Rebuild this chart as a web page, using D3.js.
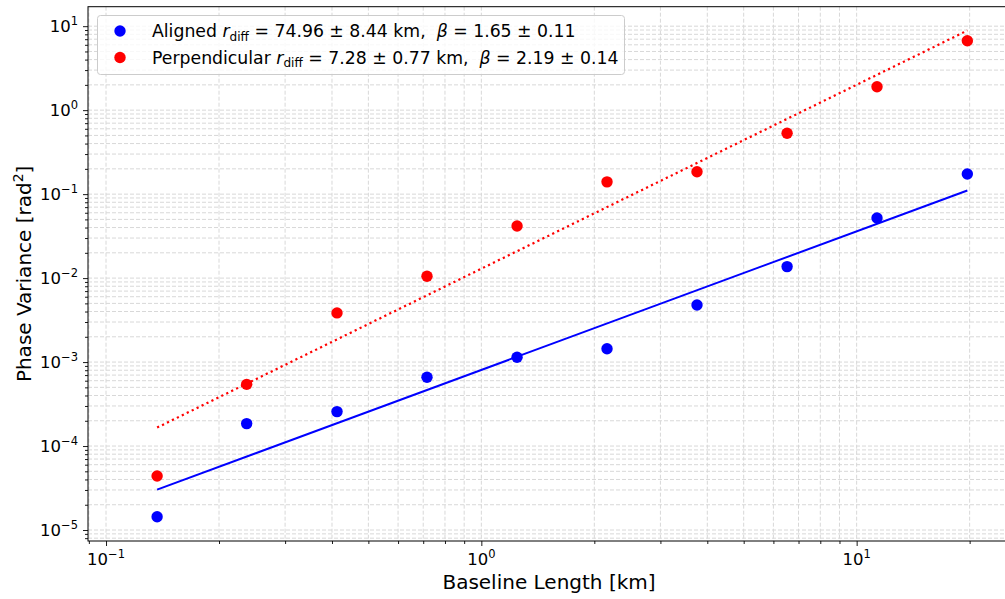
<!DOCTYPE html>
<html>
<head>
<meta charset="utf-8">
<script src="https://cdn.jsdelivr.net/npm/d3@7"></script>
<style>
  body { margin: 0; background: #fff; }
  svg { display: block; font-family: "DejaVu Sans", sans-serif; }
</style>
</head>
<body>
<svg></svg>
<script>
// values
let baselines = [0.1368, 0.2370, 0.4125, 0.7165, 1.245, 2.162, 3.755, 6.526, 11.33, 19.72]
let alignedVar = [1.44e-5, 1.85e-4, 2.57e-4, 6.59e-4, 1.14e-3, 1.44e-3, 4.78e-3, 1.37e-2, 5.20e-2, 0.174]
let perpVar = [4.40e-5, 5.43e-4, 3.85e-3, 1.05e-2, 4.18e-2, 0.140, 0.185, 0.531, 1.90, 6.72]

// fit line end points
let fitBaselines = [0.1368, 19.72]
let alignedFit = [3.03e-5, 0.1105]
let perpFit = [1.66e-4, 8.87]

let xTickExp = [-1, 0, 1]
let yTickExp = [-5, -4, -3, -2, -1, 0, 1]

let width = 1005
let height = 599
let plotLeft = 88, plotRight = 1010, plotTop = 6.7, plotBottom = 541

let svg = d3.select('svg').attr('width', width).attr('height', height)

let xScale = d3.scaleLog().domain([0.08953, 25.62]).range([plotLeft, plotRight])
let yScale = d3.scaleLog().domain([17.06, 7.4e-6]).range([plotTop, plotBottom])

let minorVals = (lo, hi) => {
    let out = []
    for (let e = lo; e <= hi; e++) {
        for (let m = 2; m <= 9; m++) out.push(m * Math.pow(10, e))
    }
    return out
}
let xMinor = minorVals(-2, 1).filter(v => v > 0.08953 && v < 25.62)
let yMinor = minorVals(-6, 1).filter(v => v > 7.4e-6 && v < 17.06)
let xMajor = xTickExp.map(e => Math.pow(10, e))
let yMajor = yTickExp.map(e => Math.pow(10, e))

// grid
let grid = svg.append('g')
grid.selectAll('.vgrid')
    .data(xMajor.concat(xMinor))
    .enter()
    .append('line')
    .attr('x1', d => xScale(d)).attr('x2', d => xScale(d))
    .attr('y1', plotTop).attr('y2', plotBottom)
    .attr('stroke', '#d8d8d8').attr('stroke-width', 1)
    .attr('stroke-dasharray', '4,2')
grid.selectAll('.hgrid')
    .data(yMajor.concat(yMinor))
    .enter()
    .append('line')
    .attr('x1', plotLeft).attr('x2', plotRight)
    .attr('y1', d => yScale(d)).attr('y2', d => yScale(d))
    .attr('stroke', '#d8d8d8').attr('stroke-width', 1)
    .attr('stroke-dasharray', '4,2')

// fit lines
let line = d3.line().x(d => xScale(d[0])).y(d => yScale(d[1]))
svg.append('path')
    .attr('d', line(d3.zip(fitBaselines, alignedFit)))
    .attr('fill', 'none').attr('stroke', 'blue').attr('stroke-width', 2)
svg.append('path')
    .attr('d', line(d3.zip(fitBaselines, perpFit)))
    .attr('fill', 'none').attr('stroke', 'red').attr('stroke-width', 2.2)
    .attr('stroke-dasharray', '2.2,3.3')

// points
svg.selectAll('.aligned')
    .data(d3.zip(baselines, alignedVar))
    .enter()
    .append('circle')
    .attr('cx', d => xScale(d[0])).attr('cy', d => yScale(d[1]))
    .attr('r', 5.7).attr('fill', 'blue')
svg.selectAll('.perp')
    .data(d3.zip(baselines, perpVar))
    .enter()
    .append('circle')
    .attr('cx', d => xScale(d[0])).attr('cy', d => yScale(d[1]))
    .attr('r', 5.7).attr('fill', 'red')

// spines
svg.append('rect')
    .attr('x', plotLeft).attr('y', plotTop)
    .attr('width', plotRight - plotLeft).attr('height', plotBottom - plotTop)
    .attr('fill', 'none').attr('stroke', '#000').attr('stroke-width', 1)

// axes
let xAxis = d3.axisBottom(xScale).tickValues(xMajor).tickSize(5).tickFormat('')
let xg = svg.append('g').attr('transform', 'translate(0,' + plotBottom + ')').call(xAxis)
let xMinorAxis = d3.axisBottom(xScale).tickValues(xMinor).tickSize(3).tickFormat('')
let xmg = svg.append('g').attr('transform', 'translate(0,' + plotBottom + ')').call(xMinorAxis)

let yAxis = d3.axisLeft(yScale).tickValues(yMajor).tickSize(5).tickFormat('')
let yg = svg.append('g').attr('transform', 'translate(' + plotLeft + ',0)').call(yAxis)
let yMinorAxis = d3.axisLeft(yScale).tickValues(yMinor).tickSize(3).tickFormat('')
let ymg = svg.append('g').attr('transform', 'translate(' + plotLeft + ',0)').call(yMinorAxis)

;[xg, xmg, yg, ymg].forEach(g => {
    g.select('.domain').remove()
    g.selectAll('line').attr('stroke', '#000').attr('stroke-width', 0.9)
})

let expLabel = (e) => (e < 0 ? '\u2212' + Math.abs(e) : '' + e)

// x tick labels
xTickExp.forEach(e => {
    let t = svg.append('text')
        .attr('x', xScale(Math.pow(10, e)))
        .attr('y', 565)
        .attr('text-anchor', 'middle')
        .attr('font-size', 16.5)
        .attr('fill', '#000')
    t.append('tspan').text('10')
    t.append('tspan').attr('dy', -7.5).attr('font-size', 11.5).text(expLabel(e))
})

// y tick labels
yTickExp.forEach(e => {
    let t = svg.append('text')
        .attr('x', 78)
        .attr('y', yScale(Math.pow(10, e)) + 6)
        .attr('text-anchor', 'end')
        .attr('font-size', 16.5)
        .attr('fill', '#000')
    t.append('tspan').text('10')
    t.append('tspan').attr('dy', -7.5).attr('font-size', 11.5).text(expLabel(e))
})

// axis labels
svg.append('text')
    .attr('x', (plotLeft + plotRight) / 2)
    .attr('y', 589)
    .attr('text-anchor', 'middle')
    .attr('font-size', 20)
    .text('Baseline Length [km]')

let yl = svg.append('text')
    .attr('transform', 'translate(31,' + ((plotTop + plotBottom) / 2) + ') rotate(-90)')
    .attr('text-anchor', 'middle')
    .attr('font-size', 20)
yl.append('tspan').text('Phase Variance [rad')
yl.append('tspan').attr('dy', -8).attr('font-size', 14).text('2')
yl.append('tspan').attr('dy', 8).text(']')

// legend
let legend = svg.append('g')
legend.append('rect')
    .attr('x', 97.5).attr('y', 15.5)
    .attr('width', 527).attr('height', 59)
    .attr('rx', 3)
    .attr('fill', 'rgba(255,255,255,0.8)')
    .attr('stroke', '#cccccc').attr('stroke-width', 1)

let legendRows = [
    { color: 'blue', name: 'Aligned ', r: ' = 74.96 \u00b1 8.44 km,  ', b: ' = 1.65 \u00b1 0.11' },
    { color: 'red', name: 'Perpendicular ', r: ' = 7.28 \u00b1 0.77 km,  ', b: ' = 2.19 \u00b1 0.14' }
]
legendRows.forEach((row, i) => {
    let cy = 31 + i * 26.5
    legend.append('circle').attr('cx', 120).attr('cy', cy).attr('r', 5.7).attr('fill', row.color)
    let t = legend.append('text')
        .attr('x', 152).attr('y', cy + 6)
        .attr('font-size', 17.3)
        .attr('xml:space', 'preserve')
        .style('white-space', 'pre')
    t.append('tspan').text(row.name)
    t.append('tspan').attr('font-style', 'italic').text('r')
    t.append('tspan').attr('dy', 3.8).attr('font-size', 12.1).text('diff')
    t.append('tspan').attr('dy', -3.8).text(row.r)
    t.append('tspan').attr('font-style', 'italic').text('\u03b2')
    t.append('tspan').text(row.b)
})
</script>
</body>
</html>
